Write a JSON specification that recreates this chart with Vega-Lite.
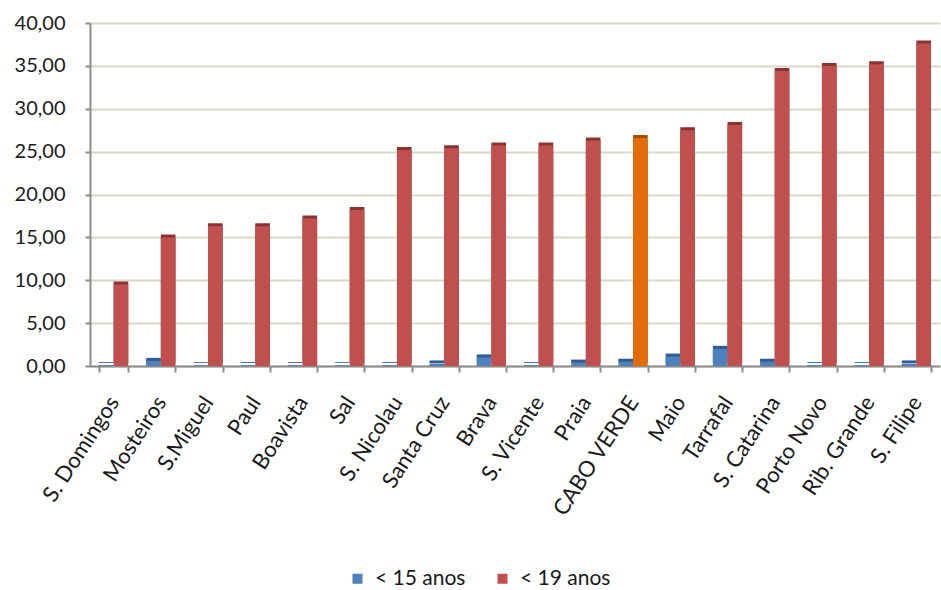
{
  "$schema": "https://vega.github.io/schema/vega-lite/v6.json",
  "width": 850,
  "height": 343,
  "autosize": {"type": "none"},
  "padding": {"left": 90, "top": 23, "right": 1, "bottom": 224},
  "background": "white",
  "config": {
    "locale": {"number": {"decimal": ",", "thousands": ".", "grouping": [3], "currency": ["", ""]}},
    "font": "Lato",
    "view": {"stroke": null}
  },
  "data": {
    "values": [
      {"local": "S. Domingos", "serie": "< 15 anos", "valor": 0.1},
      {"local": "S. Domingos", "serie": "< 19 anos", "valor": 9.5},
      {"local": "Mosteiros", "serie": "< 15 anos", "valor": 0.6},
      {"local": "Mosteiros", "serie": "< 19 anos", "valor": 15.0},
      {"local": "S.Miguel", "serie": "< 15 anos", "valor": 0.1},
      {"local": "S.Miguel", "serie": "< 19 anos", "valor": 16.3},
      {"local": "Paul", "serie": "< 15 anos", "valor": 0.1},
      {"local": "Paul", "serie": "< 19 anos", "valor": 16.3},
      {"local": "Boavista", "serie": "< 15 anos", "valor": 0.1},
      {"local": "Boavista", "serie": "< 19 anos", "valor": 17.2},
      {"local": "Sal", "serie": "< 15 anos", "valor": 0.1},
      {"local": "Sal", "serie": "< 19 anos", "valor": 18.2},
      {"local": "S. Nicolau", "serie": "< 15 anos", "valor": 0.1},
      {"local": "S. Nicolau", "serie": "< 19 anos", "valor": 25.2},
      {"local": "Santa Cruz", "serie": "< 15 anos", "valor": 0.3},
      {"local": "Santa Cruz", "serie": "< 19 anos", "valor": 25.4},
      {"local": "Brava", "serie": "< 15 anos", "valor": 1.0},
      {"local": "Brava", "serie": "< 19 anos", "valor": 25.7},
      {"local": "S. Vicente", "serie": "< 15 anos", "valor": 0.1},
      {"local": "S. Vicente", "serie": "< 19 anos", "valor": 25.7},
      {"local": "Praia", "serie": "< 15 anos", "valor": 0.4},
      {"local": "Praia", "serie": "< 19 anos", "valor": 26.3},
      {"local": "CABO VERDE", "serie": "< 15 anos", "valor": 0.5},
      {"local": "CABO VERDE", "serie": "< 19 anos", "valor": 26.6},
      {"local": "Maio", "serie": "< 15 anos", "valor": 1.1},
      {"local": "Maio", "serie": "< 19 anos", "valor": 27.5},
      {"local": "Tarrafal", "serie": "< 15 anos", "valor": 2.0},
      {"local": "Tarrafal", "serie": "< 19 anos", "valor": 28.1},
      {"local": "S. Catarina", "serie": "< 15 anos", "valor": 0.5},
      {"local": "S. Catarina", "serie": "< 19 anos", "valor": 34.4},
      {"local": "Porto Novo", "serie": "< 15 anos", "valor": 0.1},
      {"local": "Porto Novo", "serie": "< 19 anos", "valor": 35.0},
      {"local": "Rib. Grande", "serie": "< 15 anos", "valor": 0.1},
      {"local": "Rib. Grande", "serie": "< 19 anos", "valor": 35.2},
      {"local": "S. Filipe", "serie": "< 15 anos", "valor": 0.3},
      {"local": "S. Filipe", "serie": "< 19 anos", "valor": 37.6}
    ]
  },
  "encoding": {
    "x": {
      "field": "local",
      "type": "nominal",
      "sort": null,
      "title": null,
      "scale": {"paddingInner": 0.38, "paddingOuter": 0.19},
      "axis": {
        "labelAngle": -57,
        "labelAlign": "right",
        "labelBaseline": "middle",
        "labelFontSize": 22,
        "labelColor": "#1a1a1a",
        "labelPadding": 26,
        "labelOverlap": false,
        "labelLimit": 250,
        "domainColor": "#8c8c8c",
        "domainWidth": 2,
        "tickColor": "#8c8c8c",
        "tickWidth": 2,
        "tickSize": 6,
        "tickBand": "extent",
        "grid": false
      }
    },
    "xOffset": {"field": "serie", "type": "nominal", "sort": ["< 15 anos", "< 19 anos"]},
    "y": {
      "field": "valor",
      "type": "quantitative",
      "title": null,
      "scale": {"domain": [0, 40], "nice": false},
      "axis": {
        "values": [0, 5, 10, 15, 20, 25, 30, 35, 40],
        "format": ",.2f",
        "labelFontSize": 20,
        "labelColor": "#1a1a1a",
        "labelPadding": 20,
        "domainColor": "#8c8c8c",
        "domainWidth": 2,
        "tickColor": "#8c8c8c",
        "tickWidth": 2,
        "tickSize": 5,
        "gridColor": "#dcd8c4",
        "gridWidth": 2
      }
    }
  },
  "layer": [
    {
      "mark": {"type": "bar", "xOffset": 8, "yOffset": -3},
      "encoding": {
        "color": {
          "condition": {"test": "datum.local === 'CABO VERDE' && datum.serie === '< 19 anos'", "value": "#a34f08"},
          "field": "serie",
          "type": "nominal",
          "scale": {"domain": ["< 15 anos", "< 19 anos"], "range": ["#2f5d91", "#8a3330"]},
          "legend": null
        }
      }
    },
    {
      "mark": {"type": "bar", "xOffset": 4},
      "encoding": {
        "color": {
          "condition": {"test": "datum.local === 'CABO VERDE' && datum.serie === '< 19 anos'", "value": "#E46C0A"},
          "field": "serie",
          "type": "nominal",
          "scale": {"domain": ["< 15 anos", "< 19 anos"], "range": ["#4F81BD", "#C0504D"]},
          "legend": {
            "title": null,
            "orient": "none",
            "legendX": 257,
            "legendY": 545,
            "direction": "horizontal",
            "symbolType": "square",
            "symbolSize": 100,
            "symbolStrokeWidth": 0,
            "labelFontSize": 21,
            "labelColor": "#1a1a1a",
            "columnPadding": 26,
            "labelOffset": 7
          }
        }
      }
    }
  ],
  "resolve": {"scale": {"color": "independent"}}
}
